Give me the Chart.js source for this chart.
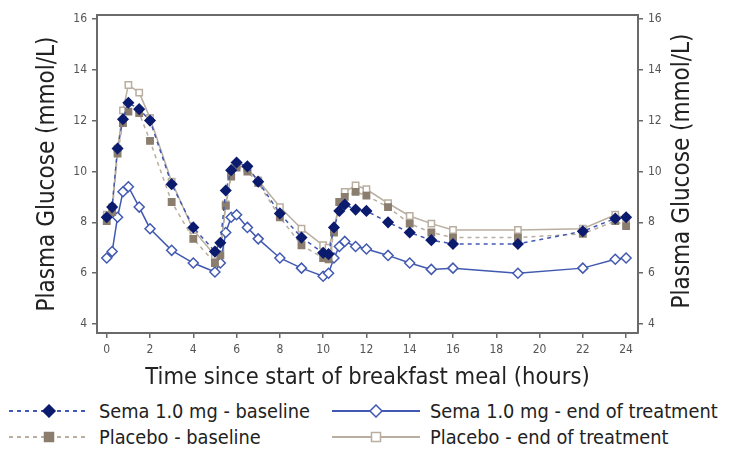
<!DOCTYPE html>
<html>
<head>
<meta charset="utf-8">
<script src="https://cdn.jsdelivr.net/npm/chart.js@4.4.1/dist/chart.umd.min.js"></script>
<style>
  body { margin: 0; background: #fff; font-family: 'Liberation Sans Narrow', 'DejaVu Sans Condensed', sans-serif; }
  #wrap { position: relative; width: 731px; height: 392px; }
  #legend { position: relative; width: 731px; height: 61px; }
  .item { position: absolute; display: flex; align-items: center; height: 24px; font-size: 19.8px; color: #222; white-space: nowrap; }
  .item svg { margin-right: 10px; }
</style>
</head>
<body>
<div id="wrap"><canvas id="chart"></canvas></div>
<div id="legend"></div>
<script>
// sampling times (hours since start of breakfast)
const HOURS = [0, 0.25, 0.5, 0.75, 1, 1.5, 2, 3, 4, 5, 5.25, 5.5, 5.75, 6, 6.5, 7, 8, 9, 10, 10.25, 10.5, 10.75, 11, 11.5, 12, 13, 14, 15, 16, 19, 22, 23.5, 24];

const SEMA_BASELINE = [8.2, 8.6, 10.9, 12.05, 12.7, 12.45, 12.0, 9.5, 7.8, 6.85, 7.2, 9.25, 10.05, 10.35, 10.2, 9.6, 8.35, 7.4, 6.8, 6.75, 7.8, 8.45, 8.7, 8.5, 8.45, 8.0, 7.6, 7.3, 7.15, 7.15, 7.65, 8.15, 8.2];
const SEMA_EOT = [6.6, 6.85, 8.2, 9.2, 9.4, 8.6, 7.75, 6.9, 6.4, 6.05, 6.4, 7.6, 8.2, 8.3, 7.8, 7.35, 6.6, 6.2, 5.88, 6.0, 6.6, 7.05, 7.25, 7.05, 6.95, 6.7, 6.4, 6.15, 6.2, 6.0, 6.2, 6.55, 6.6];
const PLACEBO_BASELINE = [8.05, 8.4, 10.7, 11.9, 12.35, 12.3, 11.2, 8.8, 7.35, 6.4, 6.7, 8.65, 9.8, 10.15, 10.0, 9.55, 8.2, 7.1, 6.6, 6.55, 7.6, 8.8, 9.0, 9.2, 9.05, 8.6, 7.95, 7.6, 7.4, 7.4, 7.55, 8.05, 7.85];
const PLACEBO_EOT = [8.3, 8.6, 10.9, 12.4, 13.4, 13.1, 12.1, 9.6, 7.7, 6.7, 7.0, 8.7, 9.9, 10.25, 10.1, 9.65, 8.6, 7.75, 7.1, 7.0, 7.7, 8.8, 9.2, 9.45, 9.3, 8.75, 8.25, 7.95, 7.7, 7.7, 7.75, 8.3, 8.15];

const X_TICKS = [0, 2, 4, 6, 8, 10, 12, 14, 16, 18, 20, 22, 24];
const Y_TICKS = [4, 6, 8, 10, 12, 14, 16];

const Y_TITLE = 'Plasma Glucose (mmol/L)';
const X_TITLE = 'Time since start of breakfast meal (hours)';
const FONT = "'Liberation Sans Narrow', 'DejaVu Sans Condensed', sans-serif";

const COLORS = {
  semaLine: '#4159b0',
  semaDark: '#0b1b6e',
  placeboLine: '#b9ae9f',
  placeboDark: '#8b7e6e',
  axis: '#6a6a6a',
  tickText: '#555',
};

const toPoints = (values) => HOURS.map((h, i) => ({ x: h, y: values[i] }));

const SERIES = [
  { label: 'Sema 1.0 mg - baseline', data: SEMA_BASELINE, line: COLORS.semaLine, dash: [4, 4], style: 'rectRot', fill: COLORS.semaDark, stroke: COLORS.semaDark, r: 5 },
  { label: 'Placebo - baseline', data: PLACEBO_BASELINE, line: COLORS.placeboLine, dash: [4, 4], style: 'rect', fill: COLORS.placeboDark, stroke: COLORS.placeboDark, r: 4.5 },
  { label: 'Sema 1.0 mg - end of treatment', data: SEMA_EOT, line: COLORS.semaLine, dash: [], style: 'rectRot', fill: '#fff', stroke: COLORS.semaLine, r: 5 },
  { label: 'Placebo - end of treatment', data: PLACEBO_EOT, line: COLORS.placeboLine, dash: [], style: 'rect', fill: '#fff', stroke: COLORS.placeboLine, r: 4.5 },
];

const frameAndRightTitle = {
  id: 'frameAndRightTitle',
  afterDraw(chart) {
    const { ctx, chartArea: a } = chart;
    ctx.save();
    ctx.strokeStyle = COLORS.axis;
    ctx.lineWidth = 2;
    ctx.beginPath();
    ctx.moveTo(a.left, a.top);
    ctx.lineTo(a.right, a.top);
    ctx.stroke();
    // right-hand title reads bottom-to-top like the left one
    ctx.translate(683, (a.top + a.bottom) / 2 - 3);
    ctx.rotate(-Math.PI / 2);
    ctx.fillStyle = '#222';
    ctx.font = `24px ${FONT}`;
    ctx.textAlign = 'center';
    ctx.textBaseline = 'middle';
    ctx.fillText(Y_TITLE, 0, 0);
    ctx.restore();
  },
};

const yAxis = (position, width) => ({
  type: 'linear',
  position,
  min: 3.65,
  max: 16.15,
  afterBuildTicks: (s) => { s.ticks = Y_TICKS.map((v) => ({ value: v })); },
  afterFit: (s) => { s.width = width; },
  grid: { drawOnChartArea: false, drawTicks: true, tickLength: 5, color: COLORS.axis, lineWidth: 1.5 },
  border: { display: true, color: COLORS.axis, width: 2 },
  ticks: { color: COLORS.tickText, font: { family: FONT, size: 12 }, padding: 5 },
});

new Chart(document.getElementById('chart').getContext('2d'), {
  type: 'line',
  data: {
    datasets: SERIES.map((s) => ({
      label: s.label,
      data: toPoints(s.data),
      borderColor: s.line,
      borderWidth: 1.5,
      borderDash: s.dash,
      pointStyle: s.style,
      pointRadius: s.r,
      pointBackgroundColor: s.fill,
      pointBorderColor: s.stroke,
      pointBorderWidth: 1.5,
      tension: 0,
    })),
  },
  options: {
    responsive: true,
    maintainAspectRatio: false,
    animation: false,
    layout: { padding: { top: 15, left: 30, right: 0, bottom: 0 } },
    plugins: { legend: { display: false }, tooltip: { enabled: false } },
    scales: {
      x: {
        type: 'linear',
        min: -0.45,
        max: 24.55,
        afterBuildTicks: (s) => { s.ticks = X_TICKS.map((v) => ({ value: v })); },
        afterFit: (s) => { s.height = 59; },
        grid: { drawOnChartArea: false, drawTicks: true, tickLength: 5, color: COLORS.axis, lineWidth: 1.5 },
        border: { display: true, color: COLORS.axis, width: 2 },
        ticks: { color: COLORS.tickText, font: { family: FONT, size: 12 }, padding: 5, maxRotation: 0 },
        title: { display: true, text: X_TITLE, color: '#222', font: { family: FONT, size: 23.5 }, padding: { top: 0, bottom: 0 } },
      },
      y: Object.assign(yAxis('left', 67), {
        title: { display: true, text: Y_TITLE, color: '#222', font: { family: FONT, size: 24 }, padding: { top: 3, bottom: 4 } },
      }),
      y2: yAxis('right', 93),
    },
  },
  plugins: [frameAndRightTitle],
});

// legend laid out in two columns as in the figure
const LEGEND_POS = [[9, 7, 80], [9, 33, 80], [332, 7, 88], [332, 33, 88]];
const legend = document.getElementById('legend');
SERIES.forEach((s, i) => {
  const [left, top, w] = LEGEND_POS[i];
  const c = w / 2;
  const marker = s.style === 'rect'
    ? `<rect x="${c - 4.5}" y="2.5" width="9" height="9" fill="${s.fill}" stroke="${s.stroke}" stroke-width="1.5"/>`
    : `<polygon points="${c},1 ${c + 6},7 ${c},13 ${c - 6},7" fill="${s.fill}" stroke="${s.stroke}" stroke-width="1.5"/>`;
  const el = document.createElement('div');
  el.className = 'item';
  el.style.left = left + 'px';
  el.style.top = top + 'px';
  el.innerHTML = `<svg width="${w}" height="14"><line x1="0" y1="7" x2="${w}" y2="7" stroke="${s.line}" stroke-width="2" stroke-dasharray="${s.dash.join(' ')}"/>${marker}</svg><span>${s.label}</span>`;
  legend.appendChild(el);
});
</script>
</body>
</html>
